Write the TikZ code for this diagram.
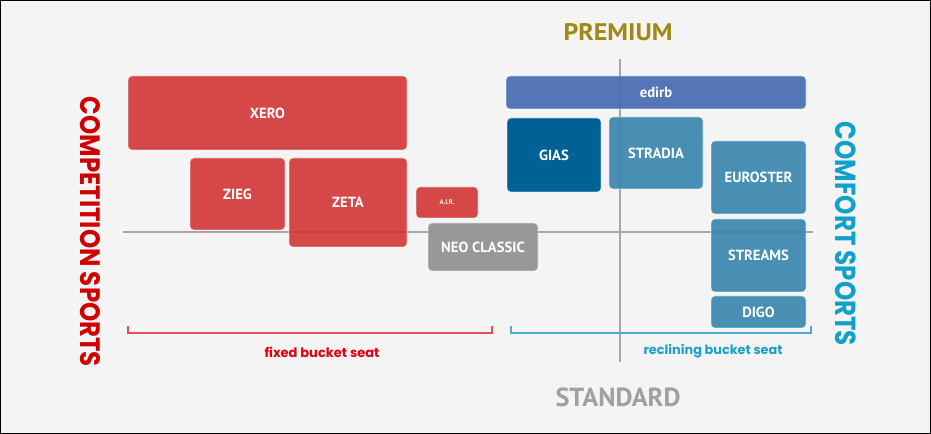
\documentclass[tikz,border=0pt]{standalone}
\usepackage{fontspec}
\usepackage{graphicx}
\newfontfamily\lbl{PT Sans}
\newfontfamily\geo{Poppins}
\definecolor{bg}{RGB}{244,244,244}
\definecolor{redbox}{RGB}{211,53,53}
\definecolor{bluebox}{RGB}{55,133,174}
\definecolor{darkbox}{RGB}{0,97,150}
\definecolor{edbox}{RGB}{67,105,177}
\definecolor{graybox}{RGB}{148,148,148}
\definecolor{axis}{RGB}{165,165,165}
\definecolor{compred}{RGB}{208,0,0}
\definecolor{comfblue}{RGB}{16,160,204}
\definecolor{premgold}{RGB}{160,136,20}
\definecolor{stdgray}{RGB}{160,160,160}
\definecolor{fixred}{RGB}{224,0,16}
\definecolor{recblue}{RGB}{27,160,204}
\definecolor{brred}{RGB}{230,80,80}
\definecolor{brblue}{RGB}{74,172,208}
\tikzset{
  box/.style={rounded corners=3pt, fill opacity=0.9, text opacity=1, inner sep=0pt,
    text=white, font=\lbl\bfseries\fontsize{11}{13}\selectfont, draw=white, draw opacity=0.6, line width=0.4pt},
  redb/.style={box, fill=redbox},
  blueb/.style={box, fill=bluebox},
  axisline/.style={draw=axis, line width=0.8pt},
}
\begin{document}
\begin{tikzpicture}[x=0.75pt,y=-0.75pt]
\useasboundingbox (0,0) rectangle (931,434);
\fill[bg] (0,0) rectangle (931,434);
\draw[black, line width=0.9pt] (0.6,0.6) rectangle (930.4,433.4);
% axes
\coordinate (hL) at (123,232);
\coordinate (hR) at (813,232);
\coordinate (vT) at (620,59);
\coordinate (vB) at (620,362);
\draw[axisline] (hL) -- (hR);
\draw[axisline] (vT) -- (vB);
% red boxes
\node[redb, minimum width=209.25pt, minimum height=55.5pt] (xero) at (267.5,113) {XERO};
\node[redb, minimum width=71.25pt, minimum height=54pt] (zieg) at (237.5,194) {ZIEG};
\node[redb, minimum width=88.5pt, minimum height=66.75pt] (zeta) at (348,202.5) {ZETA};
\node[redb, minimum width=46.5pt, minimum height=23.25pt, font=\lbl\bfseries\fontsize{5}{6}\selectfont] (air) at (447,202.5) {A.I.R.};
\node[box, fill=graybox, fill opacity=0.95, minimum width=82.5pt, minimum height=36pt] (neo) at (483,247) {NEO CLASSIC};
% blue boxes
\node[box, fill=edbox, minimum width=225pt, minimum height=24.75pt] (edirb) at (656,92.5) {edirb};
\node[box, fill=darkbox, fill opacity=1, minimum width=70.5pt, minimum height=55.5pt] (gias) at (554,155) {GIAS};
\node[blueb, minimum width=70.5pt, minimum height=54pt] (stradia) at (656,153) {STRADIA};
\node[blueb, minimum width=71.25pt, minimum height=54.75pt] (euroster) at (758.5,177.5) {EUROSTER};
\node[blueb, minimum width=71.25pt, minimum height=54.75pt] (streams) at (758.5,255.5) {STREAMS};
\node[blueb, minimum width=71.25pt, minimum height=24pt] (digo) at (758.5,312) {DIGO};
% brackets
\coordinate (rb1) at (128,326);
\coordinate (rb2) at (128,333);
\coordinate (rb3) at (492,333);
\coordinate (rb4) at (492,326);
\draw[brred, line width=0.9pt] (rb1) -- (rb2) -- (rb3) -- (rb4);
\coordinate (bb1) at (511,326);
\coordinate (bb2) at (511,333);
\coordinate (bb3) at (811,333);
\coordinate (bb4) at (811,326);
\draw[brblue, line width=0.9pt] (bb1) -- (bb2) -- (bb3) -- (bb4);
% labels
\node[inner sep=0pt, text=fixred] (fixed) at (322,352) {\resizebox{86.25pt}{!}{\geo\bfseries fixed bucket seat}};
\node[inner sep=0pt, text=recblue] (recl) at (713,351) {\resizebox{104.25pt}{!}{\geo\bfseries reclining bucket seat}};
\node[inner sep=0pt, text=premgold] (prem) at (618,32) {\resizebox{81.75pt}{12.75pt}{\lbl\bfseries PREMIUM}};
\node[inner sep=0pt, text=stdgray] (std) at (618,397) {\resizebox{93.75pt}{14pt}{\lbl\bfseries STANDARD}};
\node[inner sep=0pt, text=compred, rotate=-90] (comp) at (90,232) {\resizebox{202.5pt}{15pt}{\geo\bfseries COMPETITION SPORTS}};
\node[inner sep=0pt, text=comfblue, rotate=-90] (comf) at (846,234) {\resizebox{168pt}{15.5pt}{\geo\bfseries COMFORT SPORTS}};
\end{tikzpicture}
\end{document}
